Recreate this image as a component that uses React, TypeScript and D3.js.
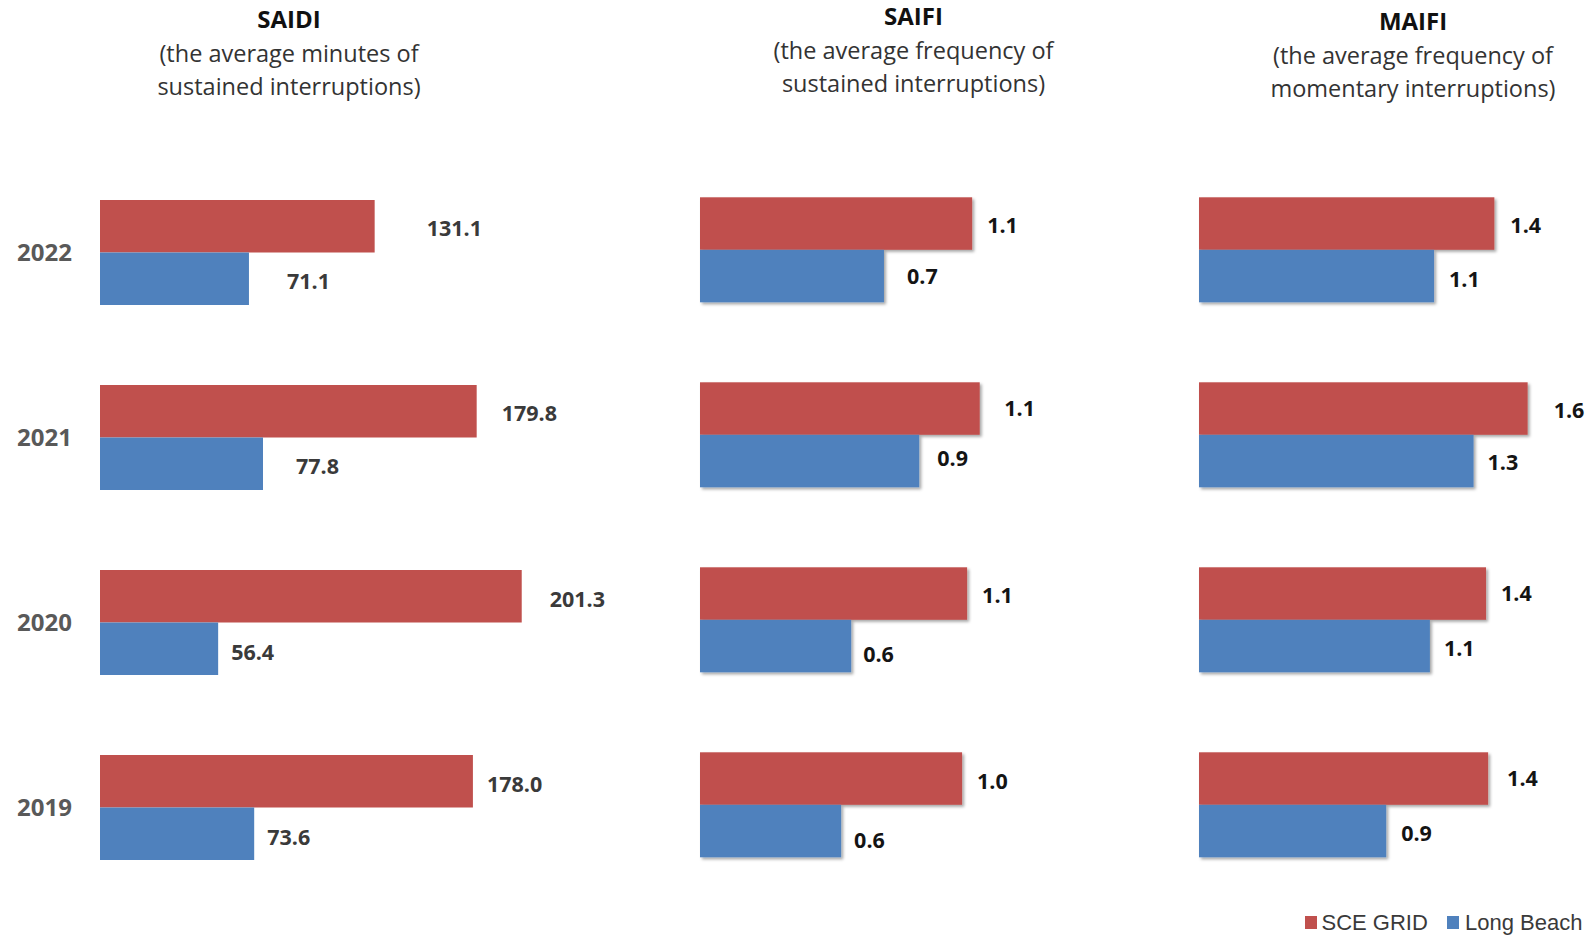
import React from "react";
import * as d3 from "d3";

// ---------- data ----------
const years = ["2022", "2021", "2020", "2019"];
const seriesNames = ["SCE GRID", "Long Beach"];

const saidiSCE = [131.1, 179.8, 201.3, 178.0];
const saidiLB = [71.1, 77.8, 56.4, 73.6];

const saifiSCE = [1.08, 1.11, 1.06, 1.04];
const saifiLB = [0.73, 0.87, 0.6, 0.56];

const maifiSCE = [1.42, 1.58, 1.38, 1.39];
const maifiLB = [1.13, 1.32, 1.11, 0.9];

const panelTitles = ["SAIDI", "SAIFI", "MAIFI"];
const panelSub1 = ["(the average minutes of", "(the average frequency of", "(the average frequency of"];
const panelSub2 = ["sustained interruptions)", "sustained interruptions)", "momentary interruptions)"];

// ---------- layout / style ----------
const W = 1590;
const H = 935;
const RED = "#C0504D";
const BLUE = "#4F81BD";
const FONT = "'Open Sans', 'Noto Sans', sans-serif";

type Layout = {
  x0: number; xMax: number; dMax: number; y0: number; cx: number; titleY: number;
  labelColor: string; shadow: boolean;
  dx: number[][]; dy: number[][];
};

const layouts: Layout[] = [
  {
    x0: 100, xMax: 100 + 250 * 2.095, dMax: 250, y0: 200, cx: 289, titleY: 28,
    labelColor: "#3a3a3a", shadow: false,
    dx: [[52, 25, 28, 14], [38, 33, 13, 13]],
    dy: [[2, 2, 3, 3.5], [2.5, 3, 4, 3.5]],
  },
  {
    x0: 700, xMax: 700 + 1.5 * 252, dMax: 1.5, y0: 197.3, cx: 913.5, titleY: 25,
    labelColor: "#141414", shadow: true,
    dx: [[15, 24.5, 15, 15], [23, 18, 12, 13]],
    dy: [[1.5, 0, 2, 3], [0, -3, 8.5, 9]],
  },
  {
    x0: 1199, xMax: 1199 + 2 * 208, dMax: 2, y0: 197.3, cx: 1413, titleY: 30,
    labelColor: "#141414", shadow: true,
    dx: [[16, 26, 15, 19], [15, 14, 14, 15]],
    dy: [[1.5, 2, 0, 0], [3, 1.5, 2, 2]],
  },
];

const panelData = [
  [saidiSCE, saidiLB],
  [saifiSCE, saifiLB],
  [maifiSCE, maifiLB],
];

const fmt = d3.format(".1f");
const colors = d3.scaleOrdinal<string, string>().domain(seriesNames).range([RED, BLUE]);

function Panel({ idx }: { idx: number }) {
  const L = layouts[idx];
  const data = panelData[idx];
  const x = d3.scaleLinear().domain([0, L.dMax]).range([L.x0, L.xMax]);
  const y = d3
    .scaleBand<string>()
    .domain(years)
    .range([L.y0, L.y0 + 3 * 185 + 105])
    .paddingInner(80 / 185)
    .paddingOuter(0);
  const ys = d3.scaleBand<string>().domain(seriesNames).range([0, y.bandwidth()]).padding(0);
  const labelSize = 21.5;
  return (
    <g>
      <text x={L.cx} y={L.titleY} textAnchor="middle" fontFamily={FONT} fontWeight={700} fontSize={24} fill="#111">
        {panelTitles[idx]}
      </text>
      <text x={L.cx} y={L.titleY + 33.5} textAnchor="middle" fontFamily={FONT} fontSize={23.5} fill="#333">
        {panelSub1[idx]}
      </text>
      <text x={L.cx} y={L.titleY + 67} textAnchor="middle" fontFamily={FONT} fontSize={23.5} fill="#333">
        {panelSub2[idx]}
      </text>
      {seriesNames.map((s, si) =>
        years.map((yr, yi) => {
          const v = data[si][yi];
          const by = (y(yr) as number) + (ys(s) as number);
          const bh = ys.bandwidth();
          const xe = x(v);
          return (
            <g key={s + yr}>
              <rect
                x={x(0)}
                y={by}
                width={xe - x(0)}
                height={bh}
                fill={colors(s)}
                filter={L.shadow ? "url(#barShadow)" : undefined}
              />
              <text
                x={xe + L.dx[si][yi]}
                y={by + bh / 2 + L.dy[si][yi] + labelSize * 0.357}
                fontFamily={FONT}
                fontWeight={700}
                fontSize={labelSize}
                fill={L.labelColor}
              >
                {fmt(v)}
              </text>
            </g>
          );
        })
      )}
    </g>
  );
}

export default function App() {
  const L0 = layouts[0];
  const yYears = d3
    .scaleBand<string>()
    .domain(years)
    .range([L0.y0, L0.y0 + 3 * 185 + 105])
    .paddingInner(80 / 185)
    .paddingOuter(0);
  const legendItems = [
    { name: seriesNames[0], sx: 1305, tx: 1321.5 },
    { name: seriesNames[1], sx: 1447, tx: 1465 },
  ];
  return (
    <svg width={W} height={H} style={{ position: "absolute", left: 0, top: 0, background: "#fff" }}>
      <defs>
        <filter id="barShadow" x="-5%" y="-10%" width="115%" height="130%">
          <feDropShadow dx="2" dy="2" stdDeviation="1.5" floodColor="#000" floodOpacity="0.35" />
        </filter>
      </defs>
      <rect x={0} y={0} width={W} height={H} fill="#fff" />
      {years.map((yr) => (
        <text
          key={yr}
          x={17}
          y={(yYears(yr) as number) + yYears.bandwidth() / 2 + 24 * 0.357}
          fontFamily={FONT}
          fontWeight={700}
          fontSize={24}
          fill="#595959"
        >
          {yr}
        </text>
      ))}
      {[0, 1, 2].map((i) => (
        <Panel key={i} idx={i} />
      ))}
      {legendItems.map((it) => (
        <g key={it.name}>
          <rect x={it.sx} y={916} width={12} height={13} fill={colors(it.name)} />
          <text x={it.tx} y={930} fontFamily="'Liberation Sans', Arial, sans-serif" fontSize={22} fill="#3a3a3a">
            {it.name}
          </text>
        </g>
      ))}
    </svg>
  );
}
